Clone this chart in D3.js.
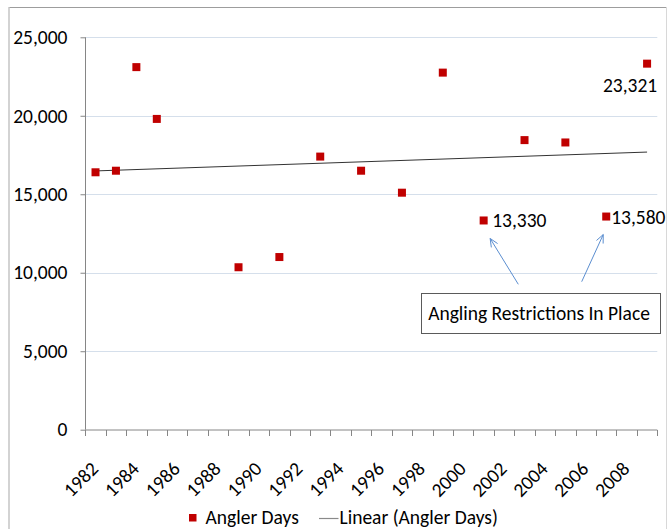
<!DOCTYPE html>
<html>
<head>
<meta charset="utf-8">
<script src="https://cdn.jsdelivr.net/npm/d3@7"></script>
<style>
  html, body { margin: 0; padding: 0; background: #fff; }
  svg { display: block; }
  text { font-family: Carlito, Calibri, "Liberation Sans Narrow", "Liberation Sans", sans-serif; fill: #000; }
</style>
</head>
<body>
<svg id="chart" width="668" height="529"></svg>
<script>
// Category axis: one slot per year
const years = d3.range(1982, 2010);
// Survey years and the angler days recorded in each
const surveyYears = [1982, 1983, 1984, 1985, 1989, 1991, 1993, 1995, 1997, 1999, 2001, 2003, 2005, 2007, 2009];
const anglerDays  = [16400, 16500, 23100, 19800, 10350, 11000, 17400, 16500, 15100, 22750, 13330, 18450, 18300, 13580, 23321];
// Value axis ticks
const yTicks = [0, 5000, 10000, 15000, 20000, 25000];
// Years that get a label on the category axis
const xLabelYears = d3.range(1982, 2009, 2);
// Points that carry a value label, with where the label sits
const labelledYears = [2001, 2007, 2009];
const labelSides    = ["right", "right", "below"];
const noteText = "Angling Restrictions In Place";
const legendNames = ["Angler Days", "Linear (Angler Days)"];

const svg = d3.select("#chart");
const fmt = d3.format(",");

const x = d3.scaleBand().domain(years).range([85.3, 657.3]).padding(0);
const y = d3.scaleLinear().domain([0, 25000]).range([429.7, 37.3]);
const cx = yr => x(yr) + x.bandwidth() / 2;

const red = "#c00000";
const axisGrey = "#868686";
const fontSize = 19.5;

// Chart frame
svg.append("line").attr("x1", 9).attr("x2", 666.5).attr("y1", 7.5).attr("y2", 7.5)
  .attr("stroke", "#9d9d9d").attr("stroke-width", 1);
svg.append("line").attr("x1", 9).attr("x2", 9).attr("y1", 7).attr("y2", 529)
  .attr("stroke", "#c4c4c4").attr("stroke-width", 1.5);
svg.append("line").attr("x1", 666.5).attr("x2", 666.5).attr("y1", 7).attr("y2", 529)
  .attr("stroke", "#d8d8d8").attr("stroke-width", 1);

// Horizontal gridlines
svg.append("g").selectAll("line").data(yTicks.filter(d => d > 0)).join("line")
  .attr("x1", 85.3).attr("x2", 657.3)
  .attr("y1", d => Math.round(y(d)) + 0.5).attr("y2", d => Math.round(y(d)) + 0.5)
  .attr("stroke", "#d5dfeb").attr("stroke-width", 1);

// Value axis
const yAxis = svg.append("g").attr("transform", "translate(85.5,0)")
  .call(d3.axisLeft(y).tickValues(yTicks).tickSize(5).tickPadding(13).tickFormat(fmt));
yAxis.select(".domain").attr("stroke", axisGrey).attr("d", `M0,${y(25000)}V${y(0)}`);
yAxis.selectAll(".tick line").attr("stroke", axisGrey);
yAxis.selectAll(".tick text").attr("font-size", fontSize).style("font-family", null);

// Category axis: ticks between categories, labels on every second year
const bounds = years.map(d => x(d)).concat([x(2009) + x.bandwidth()]);
const xAxis = svg.append("g");
xAxis.append("line").attr("x1", 85.3).attr("x2", 657.3)
  .attr("y1", 430).attr("y2", 430).attr("stroke", axisGrey);
xAxis.selectAll("line.tk").data(bounds).join("line").attr("class", "tk")
  .attr("x1", d => Math.round(d) + 0.5).attr("x2", d => Math.round(d) + 0.5)
  .attr("y1", 430).attr("y2", 436).attr("stroke", axisGrey);
xAxis.selectAll("text").data(xLabelYears).join("text")
  .attr("text-anchor", "end")
  .attr("font-size", fontSize)
  .attr("transform", d => `translate(${cx(d) + 4},${470}) rotate(-45)`)
  .text(d => d);

// Linear trend fitted over the category positions
const idx = surveyYears.map(d => years.indexOf(d));
const mx = d3.mean(idx), my = d3.mean(anglerDays);
const slope = d3.sum(idx, (v, i) => (v - mx) * (anglerDays[i] - my)) / d3.sum(idx, v => (v - mx) ** 2);
const icpt = my - slope * mx;
const first = surveyYears[0], last = surveyYears[surveyYears.length - 1];
svg.append("line")
  .attr("x1", cx(first)).attr("y1", y(icpt + slope * years.indexOf(first)))
  .attr("x2", cx(last)).attr("y2", y(icpt + slope * years.indexOf(last)))
  .attr("stroke", "#333").attr("stroke-width", 1);

// Markers
const m = 8;
svg.append("g").selectAll("rect").data(surveyYears).join("rect")
  .attr("x", d => cx(d) - m / 2)
  .attr("y", (d, i) => y(anglerDays[i]) - m / 2)
  .attr("width", m).attr("height", m)
  .attr("fill", red);

// Value labels
svg.append("g").selectAll("text").data(labelledYears).join("text")
  .attr("font-size", fontSize)
  .attr("x", (d, i) => labelSides[i] === "right" ? cx(d) + (d === 2001 ? 8.5 : 5) : cx(d) - 17)
  .attr("y", (d, i) => {
    const v = anglerDays[surveyYears.indexOf(d)];
    return labelSides[i] === "right" ? y(v) + 7 : y(v) + 28;
  })
  .attr("text-anchor", (d, i) => labelSides[i] === "right" ? "start" : "middle")
  .text(d => fmt(anglerDays[surveyYears.indexOf(d)]));

// Note box with arrows to the restricted years
const note = svg.append("g");
note.append("rect").attr("x", 421.5).attr("y", 293.5).attr("width", 239).attr("height", 40)
  .attr("fill", "#fff").attr("stroke", "#5a5a5a").attr("stroke-width", 1);
note.append("text").attr("x", 539).attr("y", 320).attr("text-anchor", "middle")
  .attr("font-size", fontSize).text(noteText);

const blue = "#5b8ed0";
const arrowTails = [[518.3, 284.3], [581.7, 281.7]];
const arrowTargets = [2001, 2007];
arrowTargets.forEach((yr, i) => {
  const v = anglerDays[surveyYears.indexOf(yr)];
  const tip = [cx(yr) + (i === 0 ? 6.5 : -3), y(v) + 18];
  const [tx, ty] = arrowTails[i];
  note.append("line").attr("x1", tx).attr("y1", ty).attr("x2", tip[0]).attr("y2", tip[1])
    .attr("stroke", blue).attr("stroke-width", 1);
  const ang = Math.atan2(ty - tip[1], tx - tip[0]);
  const L = 9, spread = 0.42;
  [ang - spread, ang + spread].forEach(a => {
    note.append("line").attr("x1", tip[0]).attr("y1", tip[1])
      .attr("x2", tip[0] + L * Math.cos(a)).attr("y2", tip[1] + L * Math.sin(a))
      .attr("stroke", blue).attr("stroke-width", 1);
  });
});

// Legend
const lg = svg.append("g");
lg.append("rect").attr("x", 189).attr("y", 514).attr("width", 7.5).attr("height", 7.5).attr("fill", red);
lg.append("text").attr("x", 205.5).attr("y", 523.5).attr("font-size", fontSize).text(legendNames[0]);
lg.append("line").attr("x1", 319).attr("x2", 338.5).attr("y1", 518.5).attr("y2", 518.5)
  .attr("stroke", "#8a8a8a").attr("stroke-width", 1.2);
lg.append("text").attr("x", 339.5).attr("y", 523.5).attr("font-size", fontSize).text(legendNames[1]);
</script>
</body>
</html>
